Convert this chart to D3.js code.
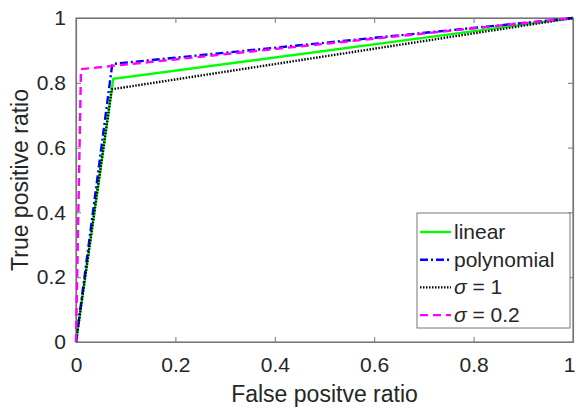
<!DOCTYPE html>
<html>
<head>
<meta charset="utf-8">
<script src="https://cdn.jsdelivr.net/npm/d3@7"></script>
<style>
body{margin:0;background:#fff;}
text{font-family:"Liberation Sans",Arial,sans-serif;fill:#262626;}
</style>
</head>
<body>
<script>
var w=576,h=408;
var margin={left:76,right:3,top:18,bottom:66};

// ROC points
var seriesNames=['linear','polynomial','\u03c3 = 1','\u03c3 = 0.2'];
var linearFpr=[0,0.075,1], linearTpr=[0,0.812,1];
var polyFpr=[0,0.073,1], polyTpr=[0,0.858,1];
var sig1Fpr=[0,0.072,1], sig1Tpr=[0,0.78,1];
var sig02Fpr=[0,0.01,1], sig02Tpr=[0,0.842,1];
var tickVals=[0,0.2,0.4,0.6,0.8,1];

var series=[
  {name:seriesNames[0],fpr:linearFpr,tpr:linearTpr,color:'#00ff00',dash:null},
  {name:seriesNames[1],fpr:polyFpr,tpr:polyTpr,color:'#0000ff',dash:'8,3,2,3'},
  {name:seriesNames[2],fpr:sig1Fpr,tpr:sig1Tpr,color:'#000000',dash:'1.5,1.5'},
  {name:seriesNames[3],fpr:sig02Fpr,tpr:sig02Tpr,color:'#ff00ff',dash:'8,5'}
];

var svg=d3.select('body').append('svg').attr('width',w).attr('height',h);
var x=d3.scaleLinear().domain([0,1]).range([margin.left,w-margin.right]);
var y=d3.scaleLinear().domain([0,1]).range([h-margin.bottom,margin.top]);

// box
svg.append('rect').attr('x',x(0)).attr('y',y(1)).attr('width',x(1)-x(0)).attr('height',y(0)-y(1))
  .attr('fill','none').attr('stroke','#777').attr('stroke-width',1.2);

var fmt=function(d){return d===0?'0':d===1?'1':d3.format('.1f')(d);};
var xAxis=svg.append('g').attr('transform','translate(0,'+y(0)+')')
  .call(d3.axisBottom(x).tickValues(tickVals).tickFormat(fmt).tickSizeInner(-5).tickSizeOuter(0).tickPadding(15));
svg.append('g').attr('transform','translate('+x(0)+',0)')
  .call(d3.axisLeft(y).tickValues(tickVals).tickFormat(fmt).tickSizeInner(-5).tickSizeOuter(0).tickPadding(10));
svg.append('g').attr('transform','translate(0,'+y(1)+')')
  .call(d3.axisTop(x).tickValues(tickVals).tickFormat('').tickSizeInner(-5).tickSizeOuter(0));
svg.append('g').attr('transform','translate('+x(1)+',0)')
  .call(d3.axisRight(y).tickValues(tickVals).tickFormat('').tickSizeInner(-5).tickSizeOuter(0));
svg.selectAll('.domain').attr('stroke','#777').attr('stroke-width',1.2);
svg.selectAll('.tick line').attr('stroke','#777');
svg.selectAll('.tick text').style('font-size','21px').attr('fill','#262626');
// last x label sits on the window edge, nudge it in so it is not clipped
xAxis.selectAll('.tick text').filter(function(d){return d===1;}).attr('dx',-4);

// lines
var line=d3.line().x(function(d){return x(d[0]);}).y(function(d){return y(d[1]);});
series.forEach(function(s){
  var pts=s.fpr.map(function(f,i){return [f,s.tpr[i]];});
  svg.append('path').datum(pts).attr('d',line).attr('fill','none')
    .attr('stroke',s.color).attr('stroke-width',2.4)
    .attr('stroke-dasharray',s.dash);
});

// axis labels
svg.append('text').attr('x',(x(0)+x(1))/2).attr('y',402).attr('text-anchor','middle')
  .style('font-size','23px').text('False positve ratio');
svg.append('text').attr('transform','translate(28,'+((y(0)+y(1))/2)+') rotate(-90)')
  .attr('text-anchor','middle').style('font-size','23px').text('True positive ratio');

// legend
var lg=svg.append('g');
lg.append('rect').attr('x',417).attr('y',213).attr('width',153).attr('height',115)
  .attr('fill','#fff').attr('stroke','#777').attr('stroke-width',1);
series.forEach(function(s,i){
  var cy=232+i*27.7;
  lg.append('line').attr('x1',420).attr('x2',451).attr('y1',cy).attr('y2',cy)
    .attr('stroke',s.color).attr('stroke-width',2.4).attr('stroke-dasharray',s.dash);
  var t=lg.append('text').attr('x',454).attr('y',cy+7).style('font-size','21px');
  if(i<2){t.text(s.name);}
  else{
    t.append('tspan').style('font-style','italic').text('\u03c3');
    t.append('tspan').text(s.name.slice(1));
  }
});
</script>
</body>
</html>
